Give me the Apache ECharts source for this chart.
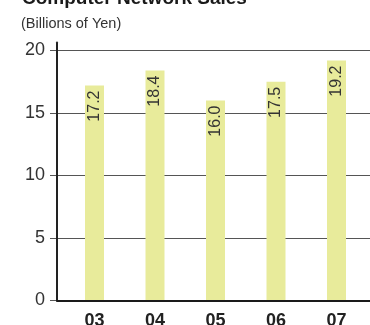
<!DOCTYPE html>
<html>
<head>
<meta charset="utf-8">
<script src="https://cdn.jsdelivr.net/npm/echarts@6/dist/echarts.min.js"></script>
<style>
html,body{margin:0;padding:0;background:#fff;}
#c{width:370px;height:325px;}
</style>
</head>
<body>
<div id="c"></div>
<script>
var titleText = 'Computer Network Sales';
var subtitleText = '(Billions of Yen)';
var categories = ['03', '04', '05', '06', '07'];
var sales = [17.2, 18.4, 16.0, 17.5, 19.2];
var yTicks = [0, 5, 10, 15, 20];

var FONT = '"Liberation Sans", Arial, Helvetica, sans-serif';
var NARROW = '"Liberation Sans Narrow", "Arial Narrow", "Liberation Sans", sans-serif';
var chart = echarts.init(document.getElementById('c'), null, {renderer: 'canvas'});
var yMin = yTicks[0], yMax = yTicks[yTicks.length - 1], yStep = yTicks[1] - yTicks[0];

var option = {
  animation: false,
  backgroundColor: '#ffffff',
  title: [
    {text: titleText, left: 17, top: -16, textStyle: {fontFamily: FONT, fontSize: 19, fontWeight: 'bold', color: '#1a1a1a'}},
    {text: subtitleText, left: 16, top: 11, textStyle: {fontFamily: FONT, fontSize: 14.5, fontWeight: 'normal', color: '#333'}}
  ],
  grid: [
    {left: 57, right: 0, top: 50.5, bottom: 24.5, containLabel: false, outerBoundsMode: 'none'},
    {left: 57, right: 0, top: 42.5, bottom: 24.5, containLabel: false, outerBoundsMode: 'none'},
    {left: 64.25, right: 3.25, top: 50.5, bottom: 24.5, containLabel: false, outerBoundsMode: 'none'}
  ],
  xAxis: [
    {gridIndex: 0, type: 'category', data: categories, z: 5,
     axisLine: {show: true, lineStyle: {color: '#1a1a1a', width: 2}},
     axisTick: {show: false}, axisLabel: {show: false}, splitLine: {show: false}},
    {gridIndex: 1, type: 'category', data: categories, show: false},
    {gridIndex: 2, type: 'category', data: categories,
     axisLine: {show: false}, axisTick: {show: false},
     axisLabel: {show: true, margin: 12, fontFamily: NARROW, fontSize: 18, fontWeight: 'bold', color: '#222'}}
  ],
  yAxis: [
    {gridIndex: 0, type: 'value', min: yMin, max: yMax, interval: yStep,
     axisLine: {show: false},
     axisTick: {show: true, inside: false, length: 7, lineStyle: {color: '#555', width: 1}},
     axisLabel: {show: true, margin: 12, fontFamily: NARROW, fontSize: 18, color: '#333'},
     splitLine: {show: true, lineStyle: {color: '#555', width: 1}}},
    {gridIndex: 1, type: 'value', min: 0, max: 1, z: 5,
     axisLine: {show: true, lineStyle: {color: '#222', width: 2}},
     axisTick: {show: false}, axisLabel: {show: false}, splitLine: {show: false}},
    {gridIndex: 2, type: 'value', min: yMin, max: yMax, interval: yStep, show: false}
  ],
  series: [
    {type: 'bar', xAxisIndex: 2, yAxisIndex: 2, data: sales, barWidth: 19, z: 3,
     itemStyle: {color: '#e8eb9b'},
     label: {show: true, position: 'insideTop', rotate: 90, align: 'right', verticalAlign: 'middle',
       distance: 5, fontFamily: NARROW, fontSize: 16, color: '#333',
       formatter: function (p) { return p.value.toFixed(1); }}}
  ]
};
chart.setOption(option);
</script>
</body>
</html>
